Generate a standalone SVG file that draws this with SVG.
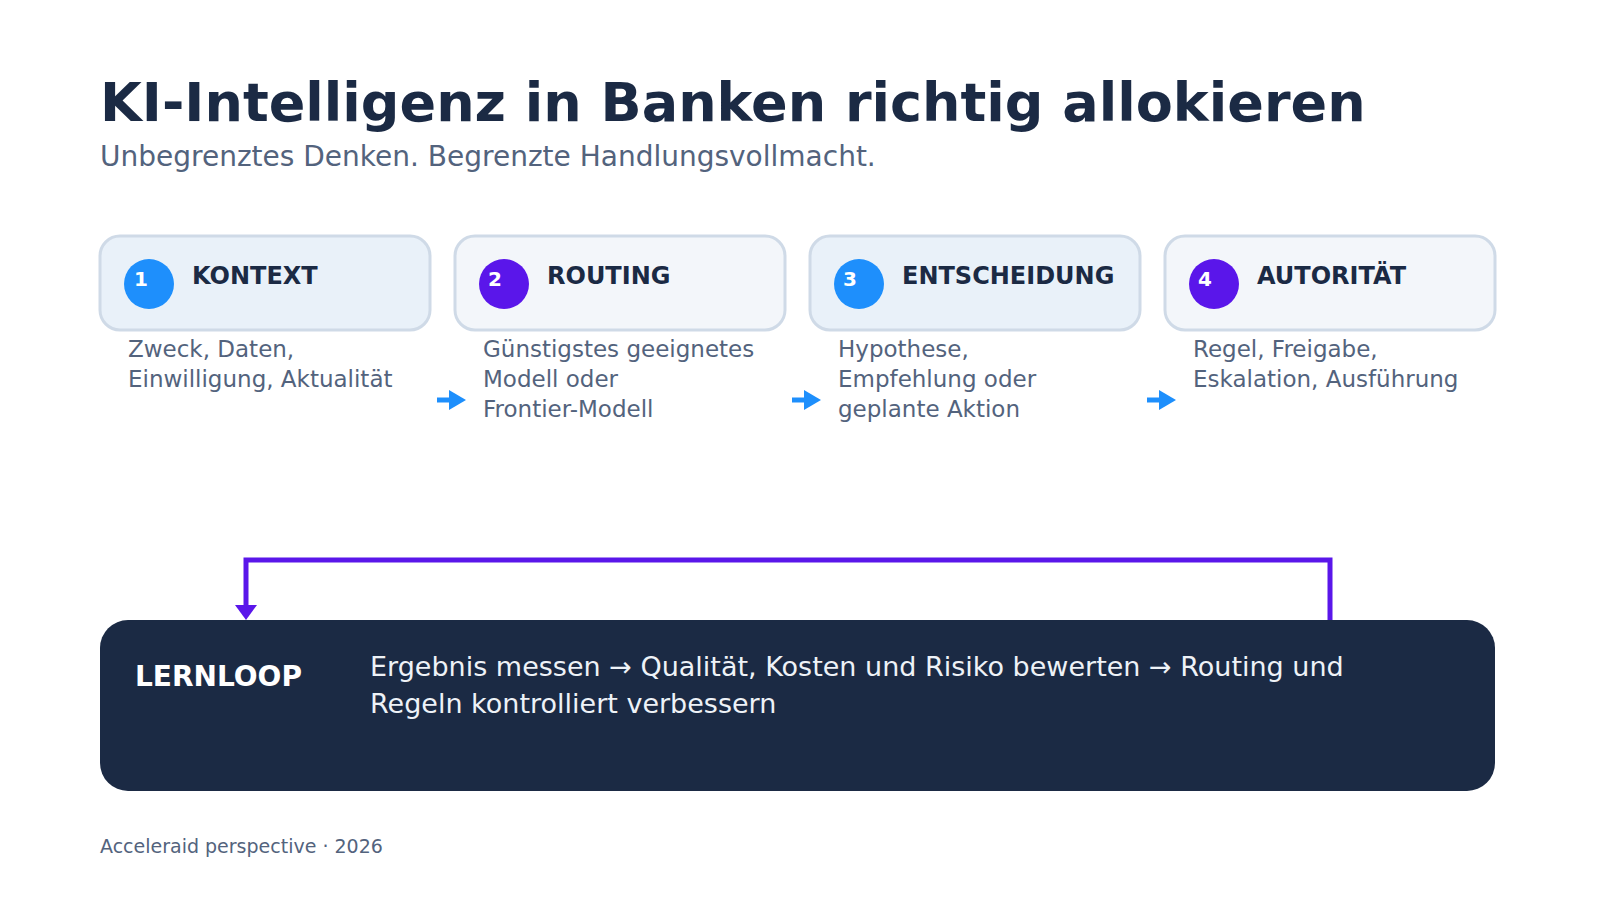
<svg xmlns="http://www.w3.org/2000/svg" width="1600" height="900" viewBox="0 0 1600 900">
  <style>
    text { font-family: "DejaVu Sans", "Noto Sans", sans-serif; }
    .title { font-size: 54px; font-weight: bold; fill: #1b2a44; }
    .subtitle { font-size: 28px; fill: #53637d; }
    .card-a { fill: #e9f1f9; stroke: #cfdae7; stroke-width: 3; }
    .card-b { fill: #f3f6fa; stroke: #cfdae7; stroke-width: 3; }
    .num { font-size: 20px; font-weight: bold; fill: #ffffff; }
    .label { font-size: 24px; font-weight: bold; fill: #1b2a44; }
    .desc { font-size: 23px; fill: #53637d; }
    .blue { fill: #1e8ffc; }
    .purple { fill: #5a16ea; }
    .step { stroke: #1e8ffc; stroke-width: 5; fill: none; }
    .loop { stroke: #5a16ea; stroke-width: 5; fill: none; }
    .loop-title { font-size: 28px; font-weight: bold; fill: #ffffff; }
    .loop-text { font-size: 27px; fill: #eef2f7; }
    .footer { font-size: 19px; fill: #53637d; }
  </style>
  <defs>
    <marker id="arrBlue" markerUnits="userSpaceOnUse" markerWidth="18" markerHeight="22" refX="0" refY="11" orient="auto">
      <path d="M0,1 L17,11 L0,21 Z" fill="#1e8ffc"/>
    </marker>
    <marker id="arrPurple" markerUnits="userSpaceOnUse" markerWidth="24" markerHeight="16" refX="12" refY="0" orient="0">
      <path d="M1,0 L23,0 L12,15 Z" fill="#5a16ea"/>
    </marker>
  </defs>

  <rect width="1600" height="900" fill="#ffffff"/>

  <g id="header">
    <text class="title" x="100" y="121">KI-Intelligenz in Banken richtig allokieren</text>
    <text class="subtitle" x="100" y="166">Unbegrenztes Denken. Begrenzte Handlungsvollmacht.</text>
  </g>

  <g id="node-kontext">
    <rect class="card-a" x="100" y="236" width="330" height="94" rx="20"/>
    <circle class="blue" cx="149" cy="284" r="25"/>
    <text class="num" x="134" y="286">1</text>
    <text class="label" x="192" y="284">KONTEXT</text>
    <text class="desc" x="128" y="357">Zweck, Daten,</text>
    <text class="desc" x="128" y="387">Einwilligung, Aktualität</text>
  </g>

  <g id="node-routing">
    <rect class="card-b" x="455" y="236" width="330" height="94" rx="20"/>
    <circle class="purple" cx="504" cy="284" r="25"/>
    <text class="num" x="488" y="286">2</text>
    <text class="label" x="547" y="284">ROUTING</text>
    <text class="desc" x="483" y="357">Günstigstes geeignetes</text>
    <text class="desc" x="483" y="387">Modell oder</text>
    <text class="desc" x="483" y="417">Frontier-Modell</text>
  </g>

  <g id="node-entscheidung">
    <rect class="card-a" x="810" y="236" width="330" height="94" rx="20"/>
    <circle class="blue" cx="859" cy="284" r="25"/>
    <text class="num" x="843" y="286">3</text>
    <text class="label" x="902" y="284">ENTSCHEIDUNG</text>
    <text class="desc" x="838" y="357">Hypothese,</text>
    <text class="desc" x="838" y="387">Empfehlung oder</text>
    <text class="desc" x="838" y="417">geplante Aktion</text>
  </g>

  <g id="node-autoritaet">
    <rect class="card-b" x="1165" y="236" width="330" height="94" rx="20"/>
    <circle class="purple" cx="1214" cy="284" r="25"/>
    <text class="num" x="1198" y="286">4</text>
    <text class="label" x="1257" y="284">AUTORITÄT</text>
    <text class="desc" x="1193" y="357">Regel, Freigabe,</text>
    <text class="desc" x="1193" y="387">Eskalation, Ausführung</text>
  </g>

  <g id="node-lernloop">
    <rect x="100" y="620" width="1395" height="171" rx="28" fill="#1b2a44"/>
    <text class="loop-title" x="135" y="686">LERNLOOP</text>
    <text class="loop-text" x="370" y="676">Ergebnis messen → Qualität, Kosten und Risiko bewerten → Routing und</text>
    <text class="loop-text" x="370" y="713">Regeln kontrolliert verbessern</text>
  </g>

  <g id="connectors">
    <path class="step" d="M437,400 H449" marker-end="url(#arrBlue)"/>
    <path class="step" d="M792,400 H804" marker-end="url(#arrBlue)"/>
    <path class="step" d="M1147,400 H1159" marker-end="url(#arrBlue)"/>
    <path class="loop" d="M1330,620 V560 H246 V605" marker-end="url(#arrPurple)"/>
  </g>

  <g id="footer">
    <text class="footer" x="100" y="853">Acceleraid perspective · 2026</text>
  </g>
</svg>
